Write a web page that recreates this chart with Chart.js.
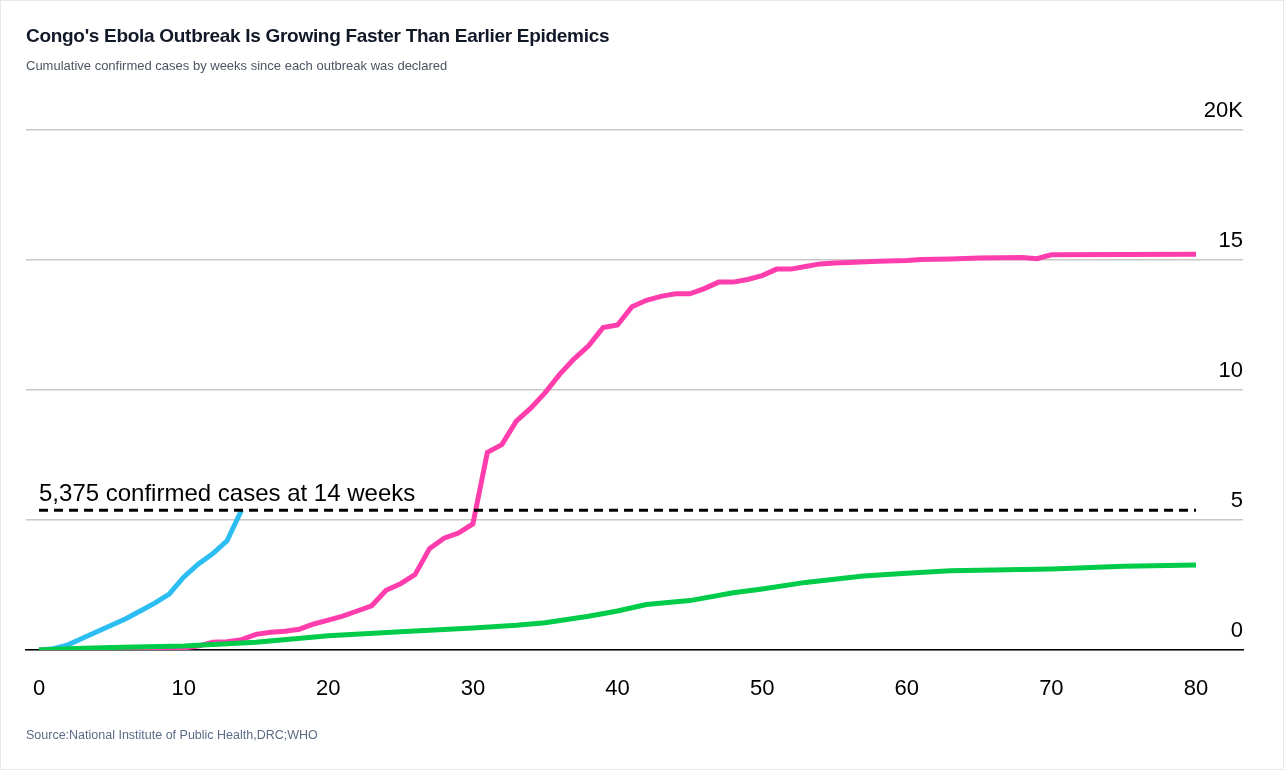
<!DOCTYPE html>
<html>
<head>
<meta charset="utf-8">
<script src="https://cdn.jsdelivr.net/npm/chart.js@4"></script>
<style>
  body { margin: 0; background: #fff; font-family: "Liberation Sans", Arial, sans-serif; }
  #wrap { position: relative; width: 1284px; height: 770px; box-sizing: border-box; border: 1px solid #e8e8e8; }
  #chart { position: absolute; left: 0; top: 0; }
  .title { position: absolute; left: 25px; top: 24px; font-size: 19px; font-weight: 700; color: #111827; letter-spacing: -0.3px; }
  .sub { position: absolute; left: 25px; top: 57px; font-size: 13px; color: #4b5563; }
  .src { position: absolute; left: 25px; top: 727px; font-size: 12.5px; color: #5b6b86; }
</style>
</head>
<body>
<div id="wrap">
  <canvas id="chart" width="1284" height="770"></canvas>
  <div class="title">Congo's Ebola Outbreak Is Growing Faster Than Earlier Epidemics</div>
  <div class="sub">Cumulative confirmed cases by weeks since each outbreak was declared</div>
  <div class="src">Source:National Institute of Public Health,DRC;WHO</div>
</div>
<script>
const xTicks = [0, 10, 20, 30, 40, 50, 60, 70, 80]
const yTicks = [0, 5000, 10000, 15000, 20000]
const yTickLabels = ['0', '5', '10', '15', '20K']

const blueWeeks = [0, 1, 2, 3, 4, 5, 6, 7, 8, 9, 10, 11, 12, 13, 14]
const blueCases = [0, 50, 200, 450, 700, 950, 1200, 1500, 1800, 2150, 2800, 3300, 3700, 4200, 5375]

const pinkWeeks = [0, 5, 9, 10, 11, 12, 13, 14, 15, 16, 17, 18, 19, 20, 21, 22, 23, 24, 25, 26, 27, 28, 29, 30,
  31, 32, 33, 34, 35, 36, 37, 38, 39, 40, 41, 42, 43, 44, 45, 46, 47, 48, 49, 50, 51, 52, 53, 54, 55, 56,
  58, 60, 61, 63, 65, 68, 69, 70, 75, 80]
const pinkCases = [0, 10, 30, 80, 150, 300, 320, 400, 600, 680, 720, 800, 1000, 1150, 1300, 1500, 1700, 2300, 2550, 2900, 3900, 4300, 4500, 4850,
  7600, 7900, 8800, 9300, 9900, 10600, 11200, 11700, 12400, 12500, 13200, 13450, 13600, 13700, 13700, 13900, 14150, 14150, 14250, 14400, 14650, 14650, 14750, 14850, 14880, 14900,
  14950, 14980, 15020, 15040, 15080, 15100, 15050, 15200, 15210, 15220]

const greenWeeks = [0, 2, 5, 10, 15, 20, 25, 30, 33, 35, 38, 40, 42, 45, 48, 50, 53, 57, 60, 63, 70, 75, 80]
const greenCases = [0, 50, 100, 150, 300, 550, 700, 850, 950, 1050, 1300, 1500, 1750, 1900, 2200, 2350, 2600, 2850, 2950, 3050, 3120, 3220, 3270]

const refValue = 5375
const refLabel = '5,375 confirmed cases at 14 weeks'

const pts = (xs, ys) => xs.map((x, i) => ({ x, y: ys[i] }))

const labelPlugin = {
  id: 'labels',
  afterDraw(chart) {
    const { ctx, scales: { x, y }, chartArea } = chart
    ctx.save()
    ctx.fillStyle = '#000'
    ctx.font = '22px "Liberation Sans", Arial, sans-serif'
    ctx.textAlign = 'center'
    ctx.textBaseline = 'top'
    xTicks.forEach(v => ctx.fillText(String(v), x.getPixelForValue(v), chartArea.bottom + 28))
    ctx.textAlign = 'right'
    ctx.textBaseline = 'bottom'
    yTicks.forEach((v, i) => ctx.fillText(yTickLabels[i], chartArea.right, y.getPixelForValue(v) - 8))
    ctx.textAlign = 'left'
    ctx.textBaseline = 'bottom'
    ctx.font = '24px "Liberation Sans", Arial, sans-serif'
    ctx.fillText(refLabel, x.getPixelForValue(0), y.getPixelForValue(refValue) - 4)
    ctx.restore()
  }
}

new Chart(document.getElementById('chart'), {
  type: 'line',
  data: {
    datasets: [
      { data: [{ x: 0, y: refValue }, { x: 80, y: refValue }], borderColor: '#000', borderWidth: 3, borderDash: [9, 6], pointRadius: 0 },
      { data: pts(greenWeeks, greenCases), borderColor: '#00cc4a', borderWidth: 5, pointRadius: 0 },
      { data: pts(pinkWeeks, pinkCases), borderColor: '#ff3dac', borderWidth: 5, pointRadius: 0 },
      { data: pts(blueWeeks, blueCases), borderColor: '#2cbdf2', borderWidth: 5, pointRadius: 0 }
    ]
  },
  options: {
    responsive: false,
    animation: false,
    layout: { padding: { left: 25, right: 42, top: 129, bottom: 121 } },
    plugins: { legend: { display: false }, tooltip: { enabled: false } },
    scales: {
      x: {
        type: 'linear', min: -0.9, max: 83.25,
        ticks: { display: false },
        grid: { display: false, drawTicks: false },
        border: { color: '#000', width: 1.5 }
      },
      y: {
        min: 0, max: 20000,
        afterBuildTicks: s => { s.ticks = yTicks.map(v => ({ value: v })) },
        ticks: { display: false },
        grid: { color: '#c8c8c8', lineWidth: 1.5, drawTicks: false },
        border: { display: false }
      }
    }
  },
  plugins: [labelPlugin]
})
</script>
</body>
</html>
